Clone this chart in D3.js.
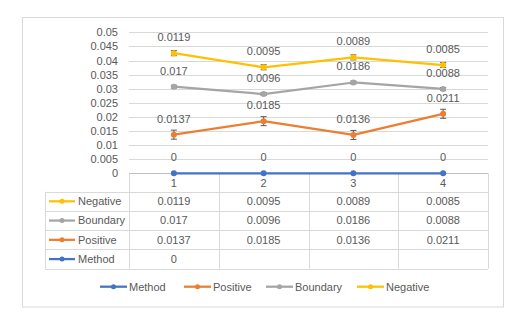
<!DOCTYPE html>
<html>
<head>
<meta charset="utf-8">
<script src="https://cdn.jsdelivr.net/npm/d3@7"></script>
<style>
  body { margin: 0; background: #fff; }
  text { font-family: "Liberation Sans", Arial, sans-serif; font-size: 11px; fill: #595959; }
</style>
</head>
<body>
<div id="chart"></div>
<script>
var categories = [1, 2, 3, 4];
var seriesNames = ['Method', 'Positive', 'Boundary', 'Negative'];
var method = [0, 0, 0, 0];
var positive = [0.0137, 0.0185, 0.0136, 0.0211];
var boundary = [0.017, 0.0096, 0.0186, 0.0088];
var negative = [0.0119, 0.0095, 0.0089, 0.0085];
// error bar sizes
var errors = [0, 0.0016, 0.0005, 0.0009];
// what the data table shows for each row (Method only fills the first cell)
var tableRows = {
  Negative: ['0.0119', '0.0095', '0.0089', '0.0085'],
  Boundary: ['0.017', '0.0096', '0.0186', '0.0088'],
  Positive: ['0.0137', '0.0185', '0.0136', '0.0211'],
  Method: ['0', '', '', '']
};
var tableOrder = ['Negative', 'Boundary', 'Positive', 'Method'];
var yTicks = [0, 0.005, 0.01, 0.015, 0.02, 0.025, 0.03, 0.035, 0.04, 0.045, 0.05];
var colors = { Method: '#4472C4', Positive: '#ED7D31', Boundary: '#A5A5A5', Negative: '#FFC000' };

var width = 519, height = 317;
var plot = { left: 129, right: 488, top: 32.3, bottom: 173.3 };
var grid = '#d9d9d9';

var svg = d3.select('#chart').append('svg')
  .attr('width', width)
  .attr('height', height);

// outer chart frame
svg.append('rect')
  .attr('x', 22.5).attr('y', 17.5)
  .attr('width', 481).attr('height', 289.5)
  .attr('fill', '#fff')
  .attr('stroke', grid);

var x = d3.scaleBand().domain(categories).range([plot.left, plot.right]);
var y = d3.scaleLinear().domain([0, 0.05]).range([plot.bottom, plot.top]);

// stacked values
var rows = categories.map(function(c, i) {
  return { cat: c, Method: method[i], Positive: positive[i], Boundary: boundary[i], Negative: negative[i] };
});
var stacked = d3.stack().keys(seriesNames)(rows);

// gridlines
svg.append('g').selectAll('line')
  .data(yTicks.slice(1))
  .enter().append('line')
  .attr('x1', plot.left).attr('x2', plot.right)
  .attr('y1', function(d) { return Math.round(y(d)) + 0.5; })
  .attr('y2', function(d) { return Math.round(y(d)) + 0.5; })
  .attr('stroke', grid);

// y axis labels
var yAxis = svg.append('g')
  .attr('transform', 'translate(' + (plot.left - 11) + ',0)')
  .call(d3.axisLeft(y).tickValues(yTicks).tickSize(0).tickPadding(0)
    .tickFormat(function(d) { return String(+d.toFixed(3)); }));
yAxis.select('.domain').remove();
yAxis.selectAll('text').attr('font-size', null).attr('font-family', null).attr('fill', null);

// data table lines
var rowTop = 191.7, rowH = 19.25, tableLeft = 45;
var tableBottom = rowTop + rowH * tableOrder.length;
var tg = svg.append('g');
x.domain().forEach(function(c) {
  tg.append('line')
    .attr('x1', Math.round(x(c)) + 0.5).attr('x2', Math.round(x(c)) + 0.5)
    .attr('y1', plot.bottom).attr('y2', tableBottom)
    .attr('stroke', grid);
});
tg.append('line')
  .attr('x1', plot.right + 0.5).attr('x2', plot.right + 0.5)
  .attr('y1', plot.bottom).attr('y2', tableBottom)
  .attr('stroke', grid);
tg.append('line')
  .attr('x1', tableLeft + 0.5).attr('x2', tableLeft + 0.5)
  .attr('y1', rowTop).attr('y2', tableBottom)
  .attr('stroke', grid);
d3.range(tableOrder.length + 1).forEach(function(i) {
  var yy = Math.round(rowTop + i * rowH) + 0.5;
  tg.append('line')
    .attr('x1', tableLeft).attr('x2', plot.right)
    .attr('y1', yy).attr('y2', yy)
    .attr('stroke', grid);
});

// category axis line
svg.append('line')
  .attr('x1', plot.left).attr('x2', plot.right)
  .attr('y1', Math.round(plot.bottom) + 0.5).attr('y2', Math.round(plot.bottom) + 0.5)
  .attr('stroke', '#bfbfbf');

// category labels (header row of table)
svg.append('g').selectAll('text')
  .data(categories)
  .enter().append('text')
  .attr('x', function(d) { return x(d) + x.bandwidth() / 2; })
  .attr('y', 182.7)
  .attr('dy', '0.35em')
  .attr('text-anchor', 'middle')
  .text(function(d) { return d; });

// table rows
tableOrder.forEach(function(name, r) {
  var cy = rowTop + r * rowH + rowH / 2;
  var g = svg.append('g');
  g.append('line')
    .attr('x1', 49).attr('x2', 75)
    .attr('y1', cy).attr('y2', cy)
    .attr('stroke', colors[name]).attr('stroke-width', 2.25);
  g.append('circle')
    .attr('cx', 62).attr('cy', cy).attr('r', 2.5)
    .attr('fill', colors[name]);
  g.append('text')
    .attr('x', 78).attr('y', cy).attr('dy', '0.35em')
    .text(name);
  g.selectAll('text.cell')
    .data(tableRows[name])
    .enter().append('text')
    .attr('class', 'cell')
    .attr('x', function(d, i) { return x(categories[i]) + x.bandwidth() / 2; })
    .attr('y', cy).attr('dy', '0.35em')
    .attr('text-anchor', 'middle')
    .text(function(d) { return d; });
});

// series lines
var line = d3.line()
  .x(function(d) { return x(d.data.cat) + x.bandwidth() / 2; })
  .y(function(d) { return y(d[1]); });

stacked.forEach(function(s, si) {
  var name = s.key;
  svg.append('path')
    .datum(s)
    .attr('fill', 'none')
    .attr('stroke', colors[name])
    .attr('stroke-width', 2.25)
    .attr('stroke-linejoin', 'round')
    .attr('d', line);
});

// error bars, markers and labels
stacked.forEach(function(s, si) {
  var name = s.key;
  var err = errors[si];
  var g = svg.append('g');
  if (err > 0) {
    var eb = g.selectAll('g.err').data(s).enter().append('g').attr('class', 'err');
    eb.append('line')
      .attr('x1', function(d) { return x(d.data.cat) + x.bandwidth() / 2; })
      .attr('x2', function(d) { return x(d.data.cat) + x.bandwidth() / 2; })
      .attr('y1', function(d) { return y(d[1] - err); })
      .attr('y2', function(d) { return y(d[1] + err); })
      .attr('stroke', '#595959').attr('stroke-width', 1);
    [-1, 1].forEach(function(sign) {
      eb.append('line')
        .attr('x1', function(d) { return x(d.data.cat) + x.bandwidth() / 2 - 3; })
        .attr('x2', function(d) { return x(d.data.cat) + x.bandwidth() / 2 + 3; })
        .attr('y1', function(d) { return y(d[1] + sign * err); })
        .attr('y2', function(d) { return y(d[1] + sign * err); })
        .attr('stroke', '#595959').attr('stroke-width', 1);
    });
  }
  g.selectAll('circle')
    .data(s)
    .enter().append('circle')
    .attr('cx', function(d) { return x(d.data.cat) + x.bandwidth() / 2; })
    .attr('cy', function(d) { return y(d[1]); })
    .attr('r', 3)
    .attr('fill', colors[name]);
  g.selectAll('text')
    .data(s)
    .enter().append('text')
    .attr('x', function(d) { return x(d.data.cat) + x.bandwidth() / 2; })
    .attr('y', function(d) { return y(d[1]) - 16; })
    .attr('dy', '0.35em')
    .attr('text-anchor', 'middle')
    .text(function(d) { return String(d.data[name]); });
});

// legend
var legendItems = [
  { name: 'Method', x: 100 },
  { name: 'Positive', x: 184 },
  { name: 'Boundary', x: 266 },
  { name: 'Negative', x: 357 }
];
var ly = 286.7;
var lg = svg.append('g').selectAll('g')
  .data(legendItems)
  .enter().append('g')
  .attr('transform', function(d) { return 'translate(' + d.x + ',' + ly + ')'; });
lg.append('line')
  .attr('x1', 0).attr('x2', 27)
  .attr('stroke', function(d) { return colors[d.name]; })
  .attr('stroke-width', 2.25);
lg.append('circle')
  .attr('cx', 13.5).attr('r', 2.5)
  .attr('fill', function(d) { return colors[d.name]; });
lg.append('text')
  .attr('x', 29).attr('dy', '0.35em')
  .text(function(d) { return d.name; });
</script>
</body>
</html>
